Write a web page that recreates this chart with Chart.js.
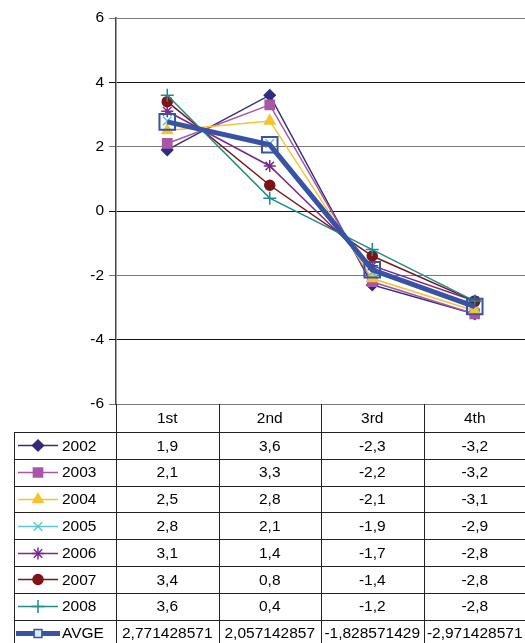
<!DOCTYPE html>
<html>
<head>
<meta charset="utf-8">
<script src="https://cdn.jsdelivr.net/npm/chart.js@4"></script>
<style>
  html, body { margin: 0; padding: 0; background: #fff; overflow: hidden; }
  #wrap { width: 525px; height: 643px; overflow: hidden; }
  canvas { display: block; }
</style>
</head>
<body>
<div id="wrap"><canvas id="c" width="530" height="643"></canvas></div>
<script>
// Quarterly values per year, plus the average row
const quarters = ['1st', '2nd', '3rd', '4th'];
const v2002 = [1.9, 3.6, -2.3, -3.2];
const v2003 = [2.1, 3.3, -2.2, -3.2];
const v2004 = [2.5, 2.8, -2.1, -3.1];
const v2005 = [2.8, 2.1, -1.9, -2.9];
const v2006 = [3.1, 1.4, -1.7, -2.8];
const v2007 = [3.4, 0.8, -1.4, -2.8];
const v2008 = [3.6, 0.4, -1.2, -2.8];
const vAvge = [2.771428571, 2.057142857, -1.828571429, -2.971428571];
const seriesNames = ['2002', '2003', '2004', '2005', '2006', '2007', '2008', 'AVGE'];
const seriesValues = [v2002, v2003, v2004, v2005, v2006, v2007, v2008, vAvge];
const yMin = -6, yMax = 6, yStep = 2;

// Styling for each series
const colors = ['#302E7C', '#A857A6', '#F4C431', '#5CC6D6', '#7A2A8C', '#7D1416', '#1E8C8C', '#3753A6'];
const markers = ['rectRot', 'rect', 'triangle', 'crossRot', 'star', 'circle', 'cross', 'rect'];
const markerRadius = [5.5, 6.5, 6, 6, 6, 5, 6.5, 11];
const legendRadius = [5.5, 6.5, 6, 6, 6, 5, 6.5, 5.5];
const lineWidths = [1.5, 1.5, 1.5, 1.5, 1.5, 1.5, 1.5, 5];

const FONT_FAMILY = '"Liberation Sans", Arial, sans-serif';
const FONT = '15.5px ' + FONT_FAMILY;
const HEADER_H = 28;
const ROW_H = 26.8;
const LEGEND_LEFT = 14;

function fmt(v) { return String(v).replace('.', ','); }

const isHollow = i => seriesNames[i] === 'AVGE';

const datasets = seriesNames.map((name, i) => ({
  label: name,
  data: seriesValues[i],
  borderColor: colors[i],
  backgroundColor: colors[i],
  borderWidth: lineWidths[i],
  pointStyle: markers[i],
  pointRadius: markerRadius[i],
  pointBackgroundColor: isHollow(i) ? 'rgba(255,255,255,0)' : colors[i],
  pointBorderColor: colors[i],
  pointBorderWidth: isHollow(i) ? 2 : 1.5,
  tension: 0,
  order: -i
}));

// Data table drawn under the plot: header row of quarters, one row per series
const dataTable = {
  id: 'dataTable',
  afterDraw(chart) {
    const ctx = chart.ctx;
    const a = chart.chartArea;
    const n = quarters.length;
    const colW = (a.right - a.left) / n;
    const top = a.bottom;
    const headBottom = top + HEADER_H;
    const tableBottom = headBottom + ROW_H * seriesNames.length;

    ctx.save();
    ctx.strokeStyle = '#222';
    ctx.lineWidth = 1;
    // vertical column separators
    for (let i = 0; i <= n; i++) {
      const x = Math.round(a.left + i * colW) + 0.5;
      ctx.beginPath(); ctx.moveTo(x, top); ctx.lineTo(x, tableBottom); ctx.stroke();
    }
    ctx.beginPath(); ctx.moveTo(LEGEND_LEFT + 0.5, headBottom); ctx.lineTo(LEGEND_LEFT + 0.5, tableBottom); ctx.stroke();
    // horizontal row separators
    for (let r = 0; r <= seriesNames.length; r++) {
      const y = Math.round(headBottom + r * ROW_H) + 0.5;
      ctx.beginPath(); ctx.moveTo(LEGEND_LEFT, y); ctx.lineTo(a.right, y); ctx.stroke();
    }

    ctx.font = FONT;
    ctx.fillStyle = '#000';
    ctx.textBaseline = 'middle';
    ctx.textAlign = 'center';
    quarters.forEach((q, c) => {
      ctx.fillText(q, a.left + (c + 0.5) * colW, top + HEADER_H / 2 + 1);
    });

    seriesNames.forEach((name, r) => {
      const cy = headBottom + (r + 0.5) * ROW_H + 1;
      ctx.textAlign = 'center';
      ctx.fillStyle = '#000';
      seriesValues[r].forEach((v, c) => {
        ctx.fillText(fmt(v), a.left + (c + 0.5) * colW, cy);
      });
      // legend key: line sample with marker
      const ly = Math.round(cy - 1) + 0.5;
      ctx.strokeStyle = colors[r];
      ctx.lineWidth = lineWidths[r];
      ctx.beginPath();
      ctx.moveTo(isHollow(r) ? 16 : 18, ly);
      ctx.lineTo(isHollow(r) ? 60 : 58, ly);
      ctx.stroke();
      ctx.fillStyle = isHollow(r) ? '#dfe6f5' : colors[r];
      ctx.lineWidth = 1.5;
      Chart.helpers.drawPoint(ctx, {
        pointStyle: markers[r],
        radius: legendRadius[r],
        rotation: 0,
        borderWidth: 1.5
      }, 38, ly);
      ctx.fillStyle = '#000';
      ctx.textAlign = 'left';
      ctx.fillText(name, 62, cy);
      ctx.strokeStyle = '#222';
      ctx.lineWidth = 1;
    });
    ctx.restore();
  }
};

new Chart(document.getElementById('c'), {
  type: 'line',
  data: { labels: quarters, datasets },
  options: {
    responsive: false,
    animation: false,
    events: [],
    layout: { autoPadding: false, padding: { top: 18, right: 4, bottom: 239, left: 0 } },
    plugins: { legend: { display: false }, tooltip: { enabled: false } },
    scales: {
      x: {
        display: false,
        offset: true
      },
      y: {
        min: yMin,
        max: yMax,
        ticks: {
          stepSize: yStep,
          color: '#000',
          font: { family: FONT_FAMILY, size: 15.5 },
          padding: 5
        },
        grid: {
          color: ctx => (ctx.tick && Math.abs(ctx.tick.value) % 4 === 2) ? '#7a7a7a' : '#111',
          lineWidth: 1,
          tickLength: 7
        },
        border: { display: true, color: '#444', width: 1.5 },
        afterFit(scale) { scale.width = 116; }
      }
    }
  },
  plugins: [dataTable]
});
</script>
</body>
</html>
